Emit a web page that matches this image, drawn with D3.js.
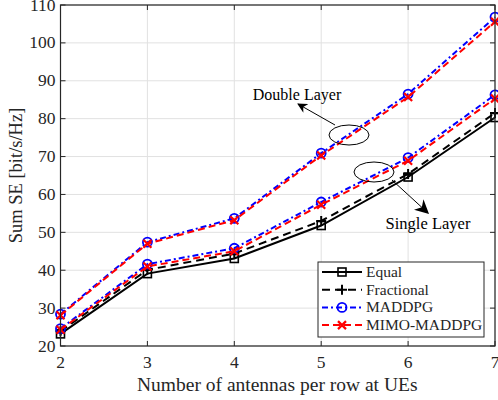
<!DOCTYPE html>
<html>
<head>
<meta charset="utf-8">
<script src="https://cdn.jsdelivr.net/npm/d3@7"></script>
<style>
  body { margin: 0; background: #fff; }
  svg text { font-family: "Liberation Serif", "Times New Roman", serif; fill: #262626; }
</style>
</head>
<body>
<div class="chart"></div>
<script>
const width = 498,
      height = 400;

// data
const antennas = [2, 3, 4, 5, 6, 7];
const equalSingle      = [23.2, 39.1, 43.1, 51.8, 64.6, 80.3];
const fractionalSingle = [23.9, 40.1, 44.4, 53.0, 65.4, 81.5];
const maddpgSingle     = [24.6, 41.6, 45.8, 58.0, 69.7, 86.3];
const mimoSingle       = [24.3, 41.0, 45.0, 57.3, 68.9, 85.3];
const maddpgDouble     = [28.4, 47.4, 53.7, 70.9, 86.5, 106.8];
const mimoDouble       = [28.1, 47.0, 53.2, 70.3, 85.7, 105.6];
const xTicks = [2, 3, 4, 5, 6, 7];
const yTicks = [20, 30, 40, 50, 60, 70, 80, 90, 100, 110];
const legendNames = ["Equal", "Fractional", "MADDPG", "MIMO-MADDPG"];

const m = {left: 60.5, right: 3, top: 5, bottom: 54};

const svg = d3.select(".chart")
              .append("svg")
              .attr("width", width)
              .attr("height", height);

const x = d3.scaleLinear().domain([2, 7]).range([m.left, width - m.right]);
const y = d3.scaleLinear().domain([20, 110]).range([height - m.bottom, m.top]);

const axisColor = "#262626";

// grid
var grid = svg.append("g").classed("grid", true);
grid.selectAll(".gx").data(xTicks).enter().append("line")
    .attr("x1", d => x(d)).attr("x2", d => x(d))
    .attr("y1", y(20)).attr("y2", y(110))
    .attr("stroke", "#e1e1e1").attr("stroke-width", 1);
grid.selectAll(".gy").data(yTicks).enter().append("line")
    .attr("x1", x(2)).attr("x2", x(7))
    .attr("y1", d => y(d)).attr("y2", d => y(d))
    .attr("stroke", "#e1e1e1").attr("stroke-width", 1);

// series styles
const styles = {
  equal:      {color: "#000000", dash: null,        marker: "square"},
  fractional: {color: "#000000", dash: "8,5",       marker: "plus"},
  maddpg:     {color: "#0000ff", dash: "6,3,2,3",   marker: "circle"},
  mimo:       {color: "#ff0000", dash: "7,4",       marker: "cross"}
};

const series = [
  {vals: equalSingle, s: styles.equal},
  {vals: fractionalSingle, s: styles.fractional},
  {vals: maddpgSingle, s: styles.maddpg},
  {vals: maddpgDouble, s: styles.maddpg},
  {vals: mimoSingle, s: styles.mimo},
  {vals: mimoDouble, s: styles.mimo}
];

const line = d3.line().x(d => x(d[0])).y(d => y(d[1]));

function drawMarker(g, type, cx, cy, color) {
  if (type == "square") {
    g.append("rect").attr("x", cx - 4).attr("y", cy - 4).attr("width", 8).attr("height", 8)
     .attr("fill", "none").attr("stroke", color).attr("stroke-width", 1.6);
  } else if (type == "plus") {
    g.append("path").attr("d", `M${cx-5},${cy}H${cx+5}M${cx},${cy-5}V${cy+5}`)
     .attr("stroke", color).attr("stroke-width", 2);
  } else if (type == "circle") {
    g.append("circle").attr("cx", cx).attr("cy", cy).attr("r", 4.5)
     .attr("fill", "none").attr("stroke", color).attr("stroke-width", 1.8);
  } else if (type == "cross") {
    g.append("path").attr("d", `M${cx-4},${cy-4}L${cx+4},${cy+4}M${cx-4},${cy+4}L${cx+4},${cy-4}`)
     .attr("stroke", color).attr("stroke-width", 2.2);
  }
}

var plot = svg.append("g").classed("plot", true);
series.forEach(function(sr) {
  var pts = antennas.map((a, i) => [a, sr.vals[i]]);
  plot.append("path").datum(pts)
      .attr("d", line)
      .attr("fill", "none")
      .attr("stroke", sr.s.color)
      .attr("stroke-width", 2)
      .attr("stroke-dasharray", sr.s.dash);
  pts.forEach(p => drawMarker(plot, sr.s.marker, x(p[0]), y(p[1]), sr.s.color));
});

// axes box
var ax = svg.append("g").classed("axes", true);
ax.append("rect")
  .attr("x", x(2)).attr("y", y(110))
  .attr("width", x(7) - x(2)).attr("height", y(20) - y(110))
  .attr("fill", "none").attr("stroke", axisColor).attr("stroke-width", 1.2);

ax.selectAll(".tx").data(xTicks).enter().append("path")
  .attr("d", d => `M${x(d)},${y(20)}v-5M${x(d)},${y(110)}v5`)
  .attr("stroke", axisColor).attr("stroke-width", 1);
ax.selectAll(".ty").data(yTicks).enter().append("path")
  .attr("d", d => `M${x(2)},${y(d)}h5M${x(7)},${y(d)}h-5`)
  .attr("stroke", axisColor).attr("stroke-width", 1);

ax.selectAll(".lx").data(xTicks).enter().append("text")
  .attr("x", d => x(d)).attr("y", y(20) + 22)
  .attr("text-anchor", "middle").style("font-size", "17.5px")
  .text(d => d);
ax.selectAll(".ly").data(yTicks).enter().append("text")
  .attr("x", x(2) - 5).attr("y", d => y(d) + 5.5)
  .attr("text-anchor", "end").style("font-size", "17.5px")
  .text(d => d);

svg.append("text")
   .attr("x", (x(2) + x(7)) / 2 - 0.5).attr("y", 391)
   .attr("text-anchor", "middle").style("font-size", "19.5px")
   .text("Number of antennas per row at UEs");
svg.append("text")
   .attr("transform", `translate(22,${(y(20) + y(110)) / 2}) rotate(-90)`)
   .attr("text-anchor", "middle").style("font-size", "18.5px")
   .text("Sum SE [bit/s/Hz]");

// annotations
svg.append("defs").append("marker")
   .attr("id", "ah").attr("viewBox", "0 0 10 10")
   .attr("refX", 9).attr("refY", 5)
   .attr("markerWidth", 10).attr("markerHeight", 10)
   .attr("markerUnits", "userSpaceOnUse")
   .attr("orient", "auto")
   .append("path").attr("d", "M0,0L10,5L0,10L3,5Z").attr("fill", "#000");
svg.append("defs").append("marker")
   .attr("id", "ah2").attr("viewBox", "0 0 10 10")
   .attr("refX", 9).attr("refY", 5)
   .attr("markerWidth", 14).attr("markerHeight", 14)
   .attr("markerUnits", "userSpaceOnUse")
   .attr("orient", "auto")
   .append("path").attr("d", "M0,0L10,5L0,10L3,5Z").attr("fill", "#000");

var ann = svg.append("g").classed("annot", true);
ann.append("ellipse").attr("cx", 349).attr("cy", 135).attr("rx", 20).attr("ry", 10)
   .attr("fill", "none").attr("stroke", "#000").attr("stroke-width", 1);
ann.append("line").attr("x1", 335).attr("y1", 125).attr("x2", 298).attr("y2", 104)
   .attr("stroke", "#000").attr("stroke-width", 1).attr("marker-end", "url(#ah)");
ann.append("text").attr("x", 297).attr("y", 100).attr("text-anchor", "middle")
   .style("font-size", "16px").style("fill", "#000").text("Double Layer");

ann.append("ellipse").attr("cx", 374).attr("cy", 172).attr("rx", 20).attr("ry", 10)
   .attr("fill", "none").attr("stroke", "#000").attr("stroke-width", 1);
ann.append("line").attr("x1", 392).attr("y1", 180).attr("x2", 428).attr("y2", 213)
   .attr("stroke", "#000").attr("stroke-width", 1).attr("marker-end", "url(#ah2)");
ann.append("text").attr("x", 428).attr("y", 229).attr("text-anchor", "middle")
   .style("font-size", "16.5px").style("fill", "#000").text("Single Layer");

// legend
var lg = svg.append("g").classed("legend", true);
lg.append("rect").attr("x", 318).attr("y", 262).attr("width", 166).attr("height", 75)
  .attr("fill", "#fff").attr("stroke", axisColor).attr("stroke-width", 1);
[styles.equal, styles.fractional, styles.maddpg, styles.mimo].forEach(function(s, i) {
  var ly = 272 + i * 17.7;
  lg.append("line").attr("x1", 322).attr("x2", 362).attr("y1", ly).attr("y2", ly)
    .attr("stroke", s.color).attr("stroke-width", 2).attr("stroke-dasharray", s.dash);
  drawMarker(lg, s.marker, 342, ly, s.color);
  lg.append("text").attr("x", 366).attr("y", ly + 5)
    .style("font-size", "15.5px").text(legendNames[i]);
});
</script>
</body>
</html>
